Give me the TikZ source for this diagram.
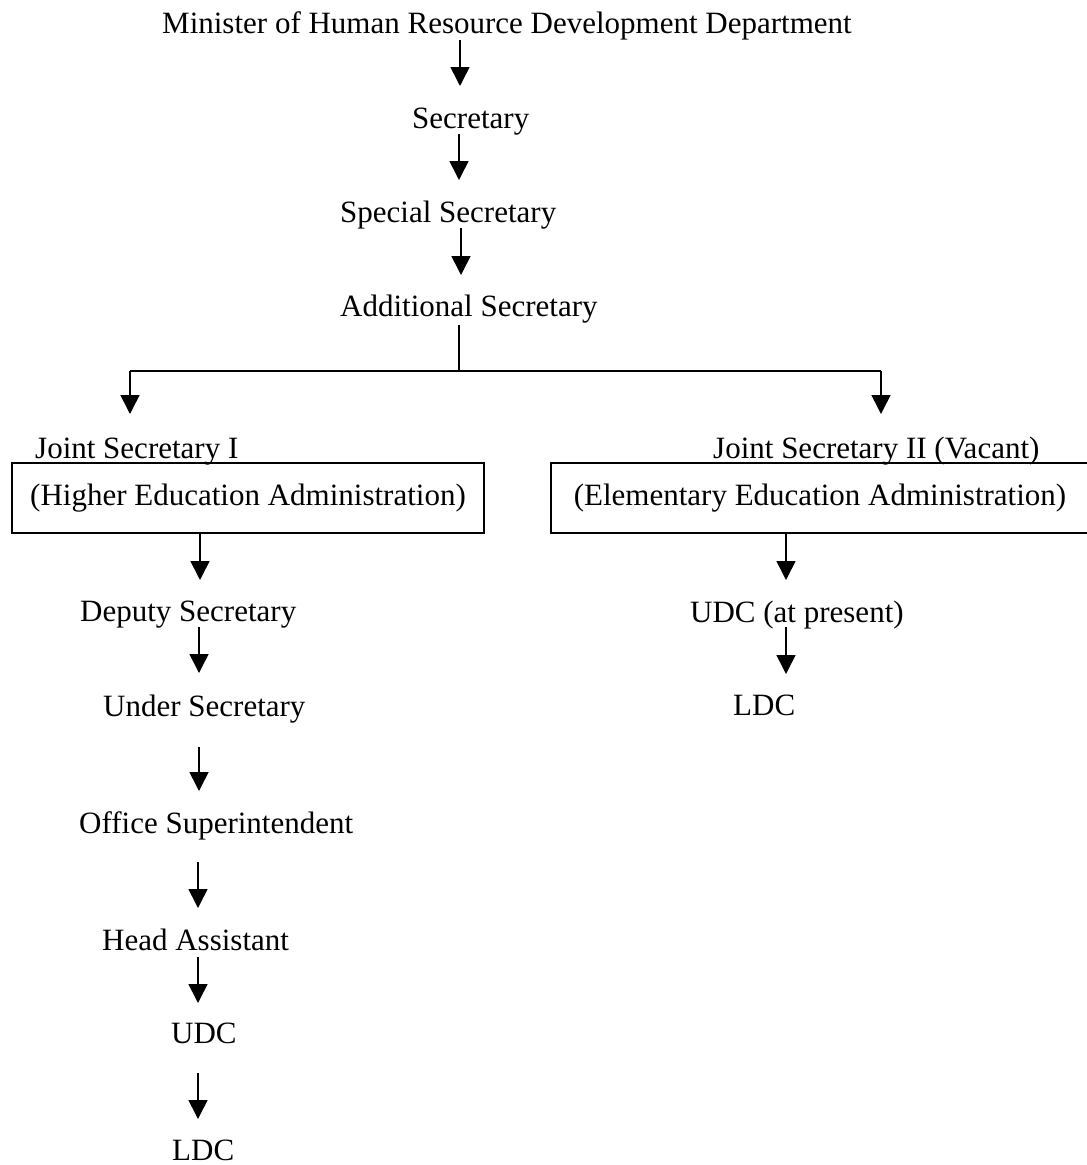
\documentclass[tikz,border=0pt]{standalone}
\usepackage{fontspec}
\setmainfont{Liberation Serif}
\usetikzlibrary{arrows.meta}
\begin{document}
\begin{tikzpicture}[x=1pt,y=-1pt,
  lbl/.style={anchor=base west,inner sep=0pt,font=\fontsize{31}{36}\selectfont},
  unit/.style={draw,line width=1.6pt,inner sep=0pt,font=\fontsize{31}{36}\selectfont},
  arr/.style={line width=1.6pt,-{Triangle[width=19pt,length=19pt]}},
  link/.style={line width=1.6pt}]
\useasboundingbox (0,0) rectangle (1087,1165);

% central chain
\node[lbl] (minister) at (162,33) {Minister of Human Resource Development Department};
\node[lbl] (sec) at (412,128) {Secretary};
\node[lbl] (spsec) at (340,222) {Special Secretary};
\node[lbl] (addsec) at (340,316) {Additional Secretary};

% the two joint secretaries
\node[lbl] (js1) at (35,458) {Joint Secretary I};
\node[lbl] (js2) at (713,458) {Joint Secretary II (Vacant)};
\node[unit,minimum width=472pt,minimum height=70pt] (higher) at (248,498) {(Higher Education Administration)};
\node[unit,minimum width=538pt,minimum height=70pt] (elem) at (820,498) {(Elementary Education Administration)};

% higher education branch
\node[lbl] (dep) at (80,621) {Deputy Secretary};
\node[lbl] (under) at (103,716) {Under Secretary};
\node[lbl] (office) at (79,833) {Office Superintendent};
\node[lbl] (head) at (102,950) {Head Assistant};
\node[lbl] (udcL) at (171,1043) {UDC};
\node[lbl] (ldcL) at (172,1160) {LDC};

% elementary education branch
\node[lbl] (udcR) at (690,622) {UDC (at present)};
\node[lbl] (ldcR) at (733,715) {LDC};

% connector end points
\coordinate (m1) at (460,40);   \coordinate (m2) at (460,86);
\coordinate (s1) at (459,134);  \coordinate (s2) at (459,180);
\coordinate (p1) at (461,228);  \coordinate (p2) at (461,275);
\coordinate (b0) at (459,325);  \coordinate (bj) at (459,371);
\coordinate (bl) at (130,371);  \coordinate (br) at (881,371);
\coordinate (tl) at (130,414);  \coordinate (tr) at (881,414);
\coordinate (h1) at (200,533);  \coordinate (h2) at (200,580);
\coordinate (d1) at (199,627);  \coordinate (d2) at (199,673);
\coordinate (u1) at (199,747);  \coordinate (u2) at (199,791);
\coordinate (o1) at (198,862);  \coordinate (o2) at (198,908);
\coordinate (a1) at (198,957);  \coordinate (a2) at (198,1003);
\coordinate (c1) at (198,1073); \coordinate (c2) at (198,1119);
\coordinate (e1) at (786,533);  \coordinate (e2) at (786,580);
\coordinate (r1) at (786,627);  \coordinate (r2) at (786,674);

\draw[arr] (m1) -- (m2);
\draw[arr] (s1) -- (s2);
\draw[arr] (p1) -- (p2);
\draw[link] (b0) -- (bj);
\draw[link] (bl) -- (br);
\draw[arr] (bl) -- (tl);
\draw[arr] (br) -- (tr);
\draw[arr] (h1) -- (h2);
\draw[arr] (d1) -- (d2);
\draw[arr] (u1) -- (u2);
\draw[arr] (o1) -- (o2);
\draw[arr] (a1) -- (a2);
\draw[arr] (c1) -- (c2);
\draw[arr] (e1) -- (e2);
\draw[arr] (r1) -- (r2);
\end{tikzpicture}
\end{document}
